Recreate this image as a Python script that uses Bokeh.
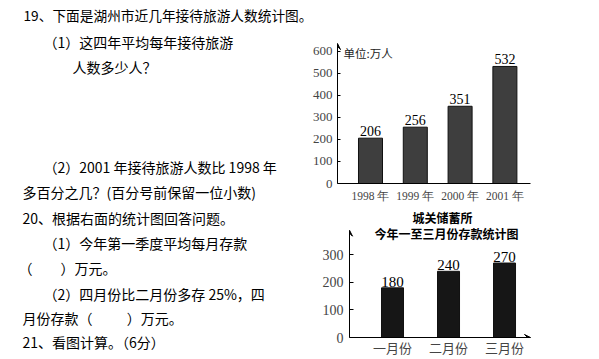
from bokeh.plotting import figure
from bokeh.layouts import column, row
from bokeh.models import Range1d, FixedTicker, Arrow, VeeHead, Label, Spacer
from bokeh.core.properties import value
from bokeh.embed import file_html
from bokeh.resources import INLINE

# ---------------- data ----------------
S = "\u3000"
N = "\u00a0"
header_line = "19、下面是湖州市近几年接待旅游人数统计图。"
left_lines = [
    "（1）这四年平均每年接待旅游",
    "人数多少人？",
    "（2）2001 年接待旅游人数比 1998 年",
    "多百分之几？(百分号前保留一位小数)",
    "20、根据右面的统计图回答问题。",
    "（1）今年第一季度平均每月存款",
    "（" + S + S + "）万元。",
    "（2）四月份比二月份多存 25%，四",
    "月份存款（" + S + S + N + N + "）万元。",
    "21、看图计算。（6分）",
]
left_x = [43, 72, 43, 22, 22, 43, 18, 43, 22, 22]
left_y = [15, 40, 140, 165, 191, 216, 241, 267, 291, 315]

years = ["1998 年", "1999 年", "2000 年", "2001 年"]
visitors = [206, 256, 351, 532]
visitor_ticks = [0, 100, 200, 300, 400, 500, 600]
visitor_unit = "单位:万人"

months = ["一月份", "二月份", "三月份"]
deposits = [180, 240, 270]
deposit_ticks = [0, 100, 200, 300]
deposit_title1 = "城关储蓄所"
deposit_title2 = "今年一至三月份存款统计图"
deposit_unit = "万元"

CJK = "Noto Sans CJK SC"
SERIF = "Liberation Serif"


def blank(fig):
    fig.axis.visible = False
    fig.grid.visible = False
    fig.outline_line_color = None
    fig.background_fill_color = "white"
    fig.border_fill_color = "white"


def tidy_axis(ax):
    ax.major_tick_out = 0
    ax.minor_tick_out = 0
    ax.minor_tick_in = 0
    ax.minor_tick_line_color = None
    ax.axis_label_standoff = 0


# ---------------- header line ----------------
hdr = figure(width=599, height=26, x_range=Range1d(0, 599), y_range=Range1d(26, 0),
             output_backend="svg", toolbar_location=None, min_border=0, margin=0)
blank(hdr)
hdr.text(x=[23], y=[14.5], text=[header_line], text_font=value(CJK), text_font_size="13.7px",
         text_baseline="middle", text_align="left", text_color="black")

# ---------------- left text ----------------
lft = figure(width=297, height=333, x_range=Range1d(0, 297), y_range=Range1d(333, 0),
             output_backend="svg", toolbar_location=None, min_border=0, margin=0)
blank(lft)
lft.text(x=left_x, y=left_y, text=left_lines, text_font=value(CJK), text_font_size="14px",
         text_baseline="middle", text_align="left", text_color="black")

# ---------------- top chart ----------------
tx0 = -0.7366
top = figure(width=302, height=179, x_range=Range1d(tx0, 5.112), y_range=Range1d(0, 713.6),
             output_backend="svg", toolbar_location=None, margin=0,
             min_border_left=40, min_border_right=0, min_border_top=0, min_border_bottom=22)
top.grid.visible = False
top.outline_line_color = None
xi = list(range(len(years)))
top.vbar(x=xi, top=visitors, width=0.536, fill_color="#3e3e3e", line_color="#111111", line_width=1)
top.text(x=xi, y=visitors, text=[str(v) for v in visitors], text_font=value(SERIF),
         text_font_size="14px", text_align="center", text_baseline="bottom", y_offset=-2,
         text_color="black")
top.text(x=[tx0 + 6 / 44.8], y=[591], text=[visitor_unit], text_font=value(CJK),
         text_font_size="11.5px", text_align="left", text_baseline="middle", text_color="#222222")
ya = top.yaxis[0]
tidy_axis(ya)
ya.ticker = FixedTicker(ticks=visitor_ticks)
ya.bounds = (0, 636)
ya.major_tick_in = 3
ya.major_label_text_font = SERIF
ya.major_label_text_font_size = "13px"
ya.major_label_standoff = 5
xa = top.xaxis[0]
tidy_axis(xa)
xa.ticker = FixedTicker(ticks=xi)
xa.major_label_overrides = {i: y for i, y in zip(xi, years)}
xa.bounds = (tx0, 3.571)
xa.major_tick_in = 0
xa.major_tick_line_color = None
xa.major_label_text_font = SERIF
xa.major_label_text_font_size = "11.5px"
xa.major_label_standoff = 6
top.add_layout(Arrow(end=VeeHead(size=6, fill_color="black", line_color="black"),
                     x_start=tx0, y_start=600, x_end=tx0, y_end=636, line_color="black"))

# ---------------- bottom chart ----------------
bx0 = -0.7679
bot = figure(width=290, height=154, x_range=Range1d(bx0, 3.696), y_range=Range1d(0, 478.6),
             output_backend="svg", toolbar_location=None, margin=0,
             min_border_left=40, min_border_right=0, min_border_top=0, min_border_bottom=20)
bot.grid.visible = False
bot.outline_line_color = None
mi = list(range(len(months)))
bot.vbar(x=mi, top=deposits, width=0.393, fill_color="#161616", line_color="#111111")
bot.text(x=mi, y=deposits, text=[str(v) for v in deposits], text_font=value(SERIF),
         text_font_size="15px", text_align="center", text_baseline="bottom", y_offset=-1,
         text_color="black")
bot.text(x=[bx0 + 93 / 56], y=[435.7], text=[deposit_title1], text_font=value(CJK),
         text_font_size="12px", text_font_style="bold", text_align="center",
         text_baseline="middle", text_color="black")
bot.text(x=[bx0 + 97 / 56], y=[378.6], text=[deposit_title2], text_font=value(CJK),
         text_font_size="12px", text_font_style="bold", text_align="center",
         text_baseline="middle", text_color="black")
bot.add_layout(Label(x=bx0, y=378.6, x_offset=-31, text=deposit_unit, text_font=CJK,
                     text_font_size="12px", text_font_style="italic", text_baseline="middle",
                     text_align="left", text_color="black"))
yb = bot.yaxis[0]
tidy_axis(yb)
yb.ticker = FixedTicker(ticks=deposit_ticks)
yb.bounds = (0, 389)
yb.major_tick_in = 4
yb.major_label_text_font = SERIF
yb.major_label_text_font_size = "14px"
yb.major_label_standoff = 6
xb = bot.xaxis[0]
tidy_axis(xb)
xb.ticker = FixedTicker(ticks=mi)
xb.major_label_overrides = {i: m for i, m in zip(mi, months)}
xb.bounds = (bx0, 2.464)
xb.major_tick_in = 0
xb.major_tick_line_color = None
xb.major_label_text_font = CJK
xb.major_label_text_font_size = "13px"
xb.major_label_standoff = 0
bot.add_layout(Arrow(end=VeeHead(size=6, fill_color="black", line_color="black"),
                     x_start=bx0, y_start=350, x_end=bx0, y_end=389, line_color="black"))
bot.add_layout(Arrow(end=VeeHead(size=6, fill_color="black", line_color="black"),
                     x_start=2.2, y_start=0, x_end=2.464, y_end=0, line_color="black"))

right_col = column(row(top, spacing=0, margin=0),
                   row(Spacer(width=12, height=154, margin=0), bot, spacing=0, margin=0),
                   spacing=0, margin=0)
layout = column(hdr, row(lft, right_col, spacing=0, margin=0), spacing=0, margin=0)
open("out.html", "w").write(file_html(layout, INLINE))
